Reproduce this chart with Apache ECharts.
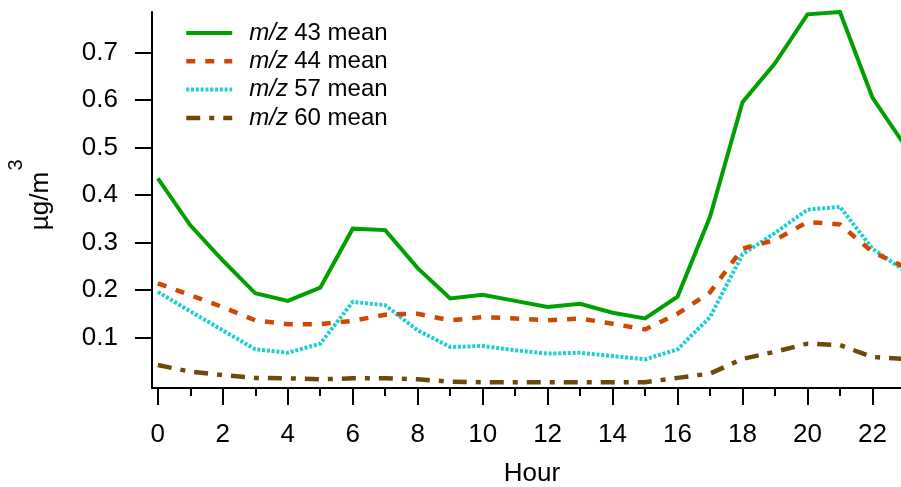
<!DOCTYPE html>
<html><head><meta charset="utf-8">
<script src="https://cdn.jsdelivr.net/npm/echarts@6/dist/echarts.min.js"></script>
<style>html,body{margin:0;padding:0;background:#fff}#c{width:901px;height:487px}</style>
</head><body><div id="c"></div>
<script>
const hours = [0,1,2,3,4,5,6,7,8,9,10,11,12,13,14,15,16,17,18,19,20,21,22,23];
const mz43 = [0.435,0.336,0.262,0.193,0.177,0.205,0.329,0.326,0.246,0.182,0.190,0.177,0.164,0.171,0.152,0.140,0.186,0.354,0.595,0.677,0.780,0.785,0.605,0.504];
const mz44 = [0.214,0.189,0.164,0.136,0.128,0.128,0.135,0.148,0.150,0.136,0.143,0.140,0.136,0.140,0.129,0.117,0.150,0.195,0.287,0.305,0.343,0.338,0.280,0.248];
const mz57 = [0.196,0.155,0.115,0.075,0.068,0.087,0.175,0.168,0.115,0.080,0.082,0.073,0.066,0.068,0.061,0.054,0.075,0.143,0.275,0.320,0.369,0.375,0.287,0.240];
const mz60 = [0.042,0.028,0.021,0.015,0.014,0.012,0.014,0.014,0.012,0.007,0.006,0.006,0.006,0.006,0.006,0.006,0.015,0.024,0.055,0.070,0.087,0.084,0.059,0.055];
const seriesNames = ['m/z 43 mean','m/z 44 mean','m/z 57 mean','m/z 60 mean'];
const yTicks = [0.1,0.2,0.3,0.4,0.5,0.6,0.7];
const xMajorTicks = [0,2,4,6,8,10,12,14,16,18,20,22];
const xMinorTicks = [1,3,5,7,9,11,13,15,17,19,21];
const xTitle = 'Hour';
const yTitle = 'µg/m';
const yTitleSup = '3';

const FONT = '"Liberation Sans", Arial, sans-serif';
const colors = ['#00a000','#d04800','#1ecfcf','#6b4a0b'];
const dashes = ['solid',[9,10],[3,1.8],[14,9,5,9]];
const widths = [4,4.5,4,4.5];
const allData = [mz43,mz44,mz57,mz60];

const chart = echarts.init(document.getElementById('c'), null, {renderer:'canvas'});
const baseX = {
  type:'value', min:-0.18, max:22.88, gridIndex:0, position:'bottom',
  splitLine:{show:false}
};
chart.setOption({
  animation:false,
  backgroundColor:'#fff',
  grid:{left:152,right:0,top:12,bottom:99, containLabel:false, outerBoundsMode:'none'},
  legend:{
    orient:'vertical', left:184, top:21, padding:0, itemWidth:46, itemHeight:14, itemGap:4.3,
    data: seriesNames.map((n,k)=>({name:n, lineStyle:{width:widths[k], type:dashes[k], color:colors[k], cap:'butt'}})),
    itemStyle:{opacity:0},
    formatter: n => '{sp|}{i|' + n.slice(0,3) + '}{t|' + n.slice(4) + '}',
    textStyle:{
      fontFamily:FONT, fontSize:24, color:'#000', lineHeight:24,
      rich:{
        sp:{width:12},
        i:{fontFamily:FONT, fontSize:24, fontStyle:'italic', color:'#000', width:45},
        t:{fontFamily:FONT, fontSize:24, color:'#000'}
      }
    }
  },
  xAxis:[
    Object.assign({}, baseX, {
      name:xTitle, nameLocation:'middle', nameGap:73,
      nameTextStyle:{fontFamily:FONT, fontSize:26, color:'#000', padding:[0,0,0,11]},
      axisLine:{show:true, onZero:false, lineStyle:{color:'#000', width:2}},
      axisTick:{show:true, customValues:xMajorTicks, length:17, lineStyle:{color:'#000', width:2}},
      axisLabel:{show:true, customValues:xMajorTicks, margin:34, fontFamily:FONT, fontSize:26, color:'#000'}
    }),
    Object.assign({}, baseX, {
      axisLine:{show:false, onZero:false},
      axisTick:{show:true, customValues:xMinorTicks, length:8, lineStyle:{color:'#000', width:2}},
      axisLabel:{show:false}
    })
  ],
  yAxis:{
    type:'value', min:-0.0063, max:0.785,
    splitLine:{show:false},
    axisLine:{show:true, onZero:false, lineStyle:{color:'#000', width:2}},
    axisTick:{show:true, customValues:yTicks, length:17, lineStyle:{color:'#000', width:2}},
    axisLabel:{show:true, customValues:yTicks, margin:34, fontFamily:FONT, fontSize:26, color:'#000',
      formatter: v => v.toFixed(1)}
  },
  graphic:[
    {type:'text', x:41, y:201, rotation:Math.PI/2,
     style:{text:yTitle, fontFamily:FONT, fontSize:26, fill:'#000', align:'center', verticalAlign:'middle'}},
    {type:'text', x:16, y:165, rotation:Math.PI/2,
     style:{text:yTitleSup, fontFamily:FONT, fontSize:20, fill:'#000', align:'center', verticalAlign:'middle'}}
  ],
  series: seriesNames.map((name,k)=>({
    name, type:'line', xAxisIndex:0, yAxisIndex:0,
    data: hours.map((h,i)=>[h, allData[k][i]]),
    showSymbol:false, symbol:'none', clip:true,
    itemStyle:{color:colors[k]},
    lineStyle:{color:colors[k], width:widths[k], type:dashes[k], cap:'butt', join:'miter'},
    z: 10 - k
  }))
});
</script></body></html>
